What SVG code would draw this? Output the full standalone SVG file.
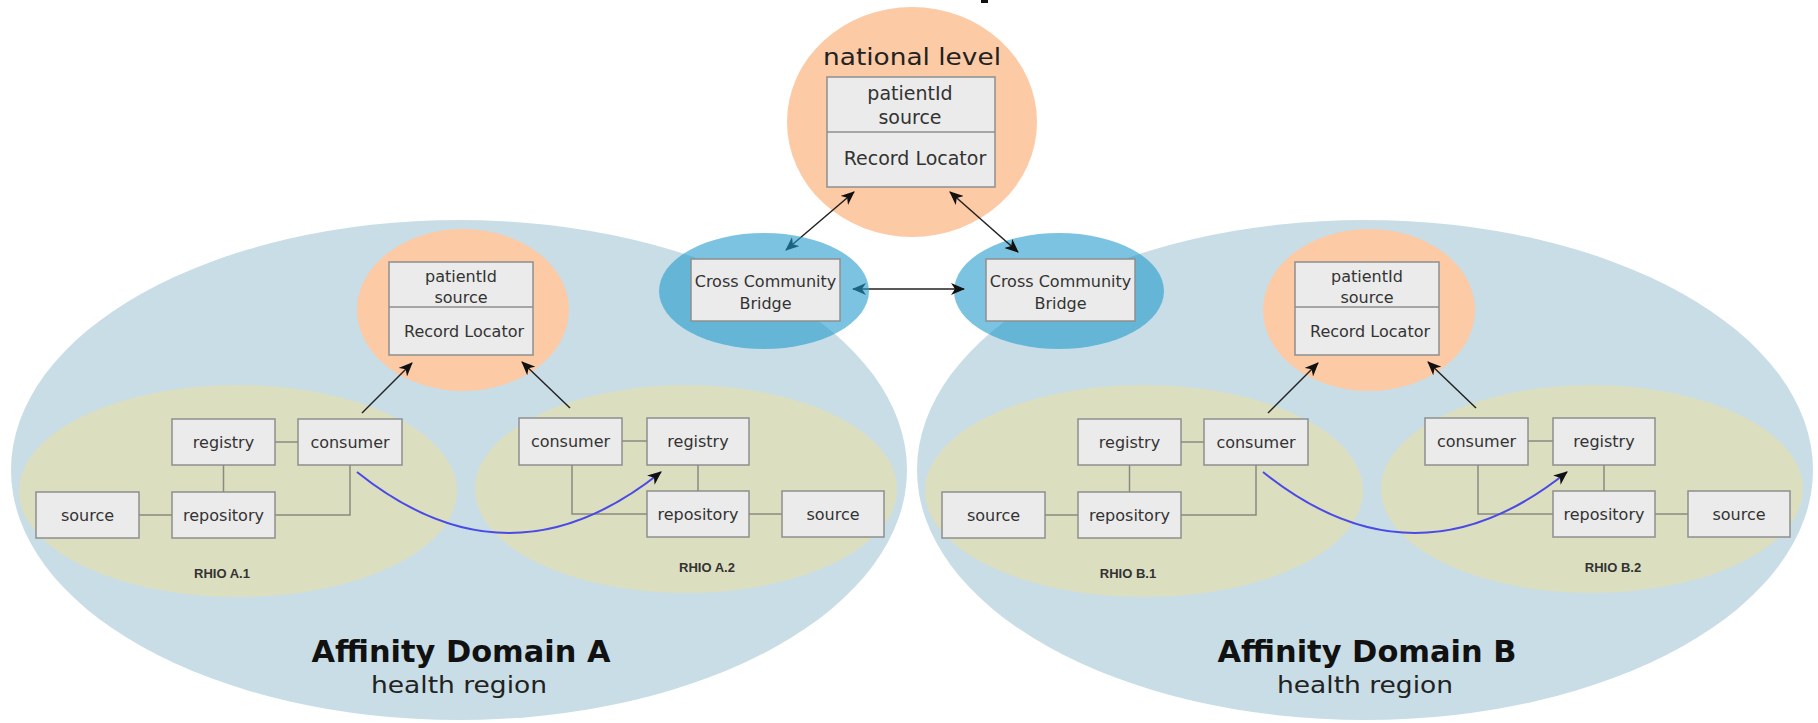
<svg xmlns="http://www.w3.org/2000/svg" width="1818" height="723" viewBox="0 0 1818 723">
<defs>
<style>
.dom{fill:#c8dde6}
.org{fill:#fdcaa6}
.rhio{fill:#dcdec0}
.bridge{fill:#239bcd;fill-opacity:0.6}
.box{fill:#ebebeb;stroke:#8f8f8f;stroke-width:1.5}
.t{font-family:"DejaVu Sans",Verdana,sans-serif;fill:#333;text-anchor:middle}
.b16{font-size:16px}
.lbl{font-family:"Liberation Sans",Arial,sans-serif;font-weight:bold;font-size:13px;fill:#333;text-anchor:middle}
.big{font-family:"DejaVu Sans",Verdana,sans-serif;font-weight:bold;font-size:31px;fill:#111;text-anchor:middle}
.sub{font-family:"DejaVu Sans",Verdana,sans-serif;font-size:23px;fill:#222;text-anchor:middle}
.ln{fill:none;stroke:#8a8a80;stroke-width:1.5}
.arr{fill:none;stroke:#222;stroke-width:1.5}
.blue{fill:none;stroke:#4a4ae6;stroke-width:2}
</style>
<marker id="ah" viewBox="0 0 14 12" refX="13" refY="6" markerWidth="14" markerHeight="12" markerUnits="userSpaceOnUse" orient="auto-start-reverse">
<path d="M0,0 L14,6 L0,12 L4,6 Z" fill="#111"/>
</marker>
</defs>

<rect x="981" y="0" width="7" height="3" fill="#111"/>

<g id="domain-a">
<ellipse class="dom" cx="459" cy="470" rx="448" ry="250"/>
<text class="big" x="461" y="662" textLength="299" lengthAdjust="spacingAndGlyphs">Affinity Domain A</text>
<text class="sub" x="459" y="693" textLength="176" lengthAdjust="spacingAndGlyphs">health region</text>
</g>
<g id="domain-b">
<ellipse class="dom" cx="1365" cy="470" rx="448" ry="250"/>
<text class="big" x="1367" y="662" textLength="299" lengthAdjust="spacingAndGlyphs">Affinity Domain B</text>
<text class="sub" x="1365" y="693" textLength="176" lengthAdjust="spacingAndGlyphs">health region</text>
</g>

<g id="national">
<ellipse class="org" cx="912" cy="122" rx="125" ry="115"/>
<text class="t" x="912" y="65" style="font-size:23px;fill:#222" textLength="178" lengthAdjust="spacingAndGlyphs">national level</text>
<rect class="box" x="827" y="77" width="168" height="110"/>
<line x1="827" y1="132" x2="995" y2="132" stroke="#8f8f8f" stroke-width="1.5"/>
<text class="t" x="910" y="100" style="font-size:19px">patientId</text>
<text class="t" x="910" y="124" style="font-size:19px">source</text>
<text class="t" x="915" y="165" style="font-size:19px">Record Locator</text>
</g>

<g id="locator-a">
<ellipse class="org" cx="463" cy="310" rx="106" ry="81"/>
<rect class="box" x="389" y="262" width="144" height="93"/>
<line x1="389" y1="307" x2="533" y2="307" stroke="#8f8f8f" stroke-width="1.5"/>
<text class="t b16" x="461" y="282">patientId</text>
<text class="t b16" x="461" y="303">source</text>
<text class="t b16" x="464" y="337">Record Locator</text>
</g>
<g id="locator-b">
<ellipse class="org" cx="1369" cy="310" rx="106" ry="81"/>
<rect class="box" x="1295" y="262" width="144" height="93"/>
<line x1="1295" y1="307" x2="1439" y2="307" stroke="#8f8f8f" stroke-width="1.5"/>
<text class="t b16" x="1367" y="282">patientId</text>
<text class="t b16" x="1367" y="303">source</text>
<text class="t b16" x="1370" y="337">Record Locator</text>
</g>

<g id="rhio-a1">
<ellipse class="rhio" cx="238" cy="491" rx="219" ry="106"/>
<text class="lbl" x="222" y="578">RHIO A.1</text>
</g>
<g id="rhio-a2">
<ellipse class="rhio" cx="686" cy="489" rx="211" ry="104"/>
<text class="lbl" x="707" y="572">RHIO A.2</text>
</g>
<g id="rhio-b1">
<ellipse class="rhio" cx="1144" cy="491" rx="219" ry="106"/>
<text class="lbl" x="1128" y="578">RHIO B.1</text>
</g>
<g id="rhio-b2">
<ellipse class="rhio" cx="1592" cy="489" rx="211" ry="104"/>
<text class="lbl" x="1613" y="572">RHIO B.2</text>
</g>

<g id="a1-registry"><rect class="box" x="172" y="419" width="103" height="46"/><text class="t b16" x="223.5" y="447.5">registry</text></g>
<g id="a1-consumer"><rect class="box" x="298" y="419" width="104" height="46"/><text class="t b16" x="350" y="447.5">consumer</text></g>
<g id="a1-source"><rect class="box" x="36" y="492" width="103" height="46"/><text class="t b16" x="87.5" y="520.5">source</text></g>
<g id="a1-repository"><rect class="box" x="172" y="492" width="103" height="46"/><text class="t b16" x="223.5" y="520.5">repository</text></g>

<g id="a2-consumer"><rect class="box" x="519" y="418" width="103" height="47"/><text class="t b16" x="570.5" y="447">consumer</text></g>
<g id="a2-registry"><rect class="box" x="647" y="418" width="102" height="47"/><text class="t b16" x="698" y="447">registry</text></g>
<g id="a2-repository"><rect class="box" x="647" y="491" width="102" height="46"/><text class="t b16" x="698" y="519.5">repository</text></g>
<g id="a2-source"><rect class="box" x="782" y="491" width="102" height="46"/><text class="t b16" x="833" y="519.5">source</text></g>

<g id="b1-registry"><rect class="box" x="1078" y="419" width="103" height="46"/><text class="t b16" x="1129.5" y="447.5">registry</text></g>
<g id="b1-consumer"><rect class="box" x="1204" y="419" width="104" height="46"/><text class="t b16" x="1256" y="447.5">consumer</text></g>
<g id="b1-source"><rect class="box" x="942" y="492" width="103" height="46"/><text class="t b16" x="993.5" y="520.5">source</text></g>
<g id="b1-repository"><rect class="box" x="1078" y="492" width="103" height="46"/><text class="t b16" x="1129.5" y="520.5">repository</text></g>

<g id="b2-consumer"><rect class="box" x="1425" y="418" width="103" height="47"/><text class="t b16" x="1476.5" y="447">consumer</text></g>
<g id="b2-registry"><rect class="box" x="1553" y="418" width="102" height="47"/><text class="t b16" x="1604" y="447">registry</text></g>
<g id="b2-repository"><rect class="box" x="1553" y="491" width="102" height="46"/><text class="t b16" x="1604" y="519.5">repository</text></g>
<g id="b2-source"><rect class="box" x="1688" y="491" width="102" height="46"/><text class="t b16" x="1739" y="519.5">source</text></g>

<g id="bridge-b">
<ellipse class="bridge" cx="1059" cy="291" rx="105" ry="58"/>
<rect class="box" x="986" y="259" width="149" height="62"/>
<text class="t b16" x="1060.5" y="287">Cross Community</text>
<text class="t b16" x="1060.5" y="309">Bridge</text>
</g>

<g id="connectors">
<path class="ln" d="M275,442 H298 M223.5,465 V492 M139,515 H172 M275,515 H350 V465"/>
<path class="ln" d="M622,441 H647 M698,465 V491 M749,514 H782 M572,465 V514 H647"/>
<path class="ln" d="M1181,442 H1204 M1129.5,465 V492 M1045,515 H1078 M1181,515 H1256 V465"/>
<path class="ln" d="M1528,441 H1553 M1604,465 V491 M1655,514 H1688 M1478,465 V514 H1553"/>
<path class="blue" d="M357,472 Q509,594 661,472" marker-end="url(#ah)"/>
<path class="blue" d="M1263,472 Q1415,594 1567,472" marker-end="url(#ah)"/>
<line class="arr" x1="362" y1="413" x2="412" y2="363" marker-end="url(#ah)"/>
<line class="arr" x1="570" y1="408" x2="522" y2="362" marker-end="url(#ah)"/>
<line class="arr" x1="1268" y1="413" x2="1318" y2="363" marker-end="url(#ah)"/>
<line class="arr" x1="1476" y1="408" x2="1428" y2="362" marker-end="url(#ah)"/>
<line class="arr" x1="854" y1="192" x2="786" y2="250" marker-start="url(#ah)" marker-end="url(#ah)"/>
<line class="arr" x1="950" y1="192" x2="1018" y2="252" marker-start="url(#ah)" marker-end="url(#ah)"/>
<line class="arr" x1="853" y1="289" x2="964" y2="289" stroke-width="2" marker-start="url(#ah)" marker-end="url(#ah)"/>
</g>

<g id="bridge-a">
<ellipse class="bridge" cx="764" cy="291" rx="105" ry="58"/>
<rect class="box" x="691" y="259" width="149" height="62"/>
<text class="t b16" x="765.5" y="287">Cross Community</text>
<text class="t b16" x="765.5" y="309">Bridge</text>
</g>
</svg>
